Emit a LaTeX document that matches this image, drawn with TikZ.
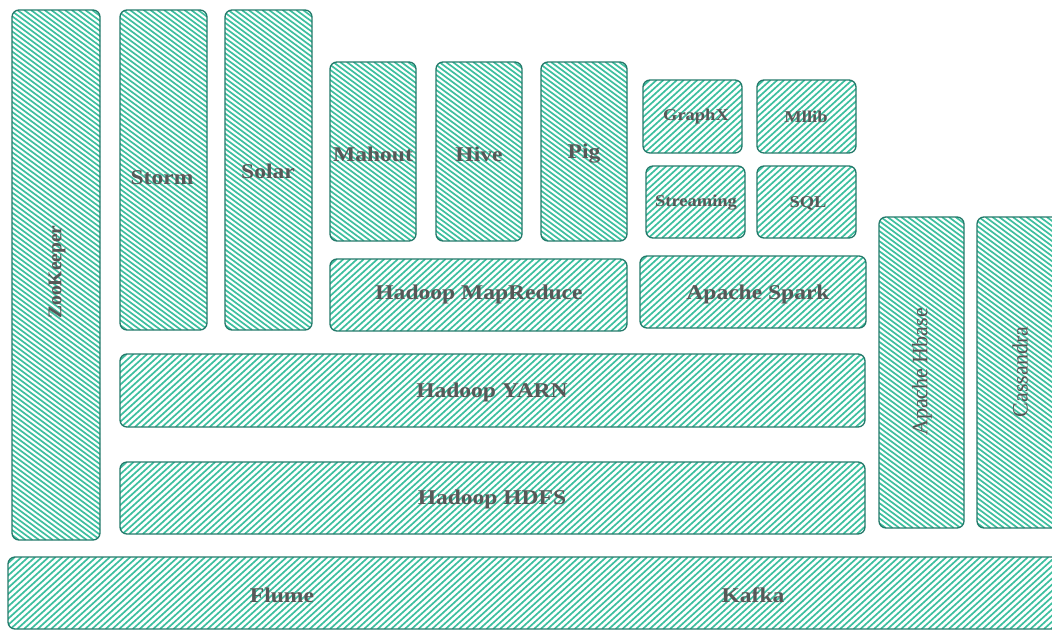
\documentclass[tikz,border=0pt]{standalone}
\usepackage{fontspec}
\setmainfont{Liberation Serif}
\newfontfamily\lblfont{Liberation Serif}[FakeStretch=1.12]
\newfontfamily\rotfont{Liberation Serif}
\definecolor{hatchc}{HTML}{3EBF9F}
\definecolor{edgec}{HTML}{24796A}
\definecolor{txtc}{HTML}{585858}
\def\hsx{6.8}
\tikzset{
  box/.style={draw=edgec, line width=1.3pt, rounded corners=7pt, inner sep=0pt, outer sep=0pt},
  hatchline/.style={draw=hatchc, line width=1.7pt},
  hatchNE/.style={path picture={%
    \pgfmathsetmacro\ddx{1.1*\bh}%
    \pgfmathsetmacro\nl{int((\bw+\ddx)/\hsx)+1}%
    \foreach \i in {0,...,\nl}{\draw[hatchline] ([xshift={\i*\hsx-\ddx}]path picture bounding box.south west) -- ++(\ddx,-\bh);}}},
  hatchNW/.style={path picture={%
    \pgfmathsetmacro\ddx{1.35*\bh}%
    \pgfmathsetmacro\nl{int((\bw+\ddx)/\hsx)+1}%
    \foreach \i in {0,...,\nl}{\draw[hatchline] ([xshift={\i*\hsx-\ddx}]path picture bounding box.north west) -- ++(\ddx,\bh);}}},
  lbl/.style={text=txtc, font=\lblfont\bfseries\fontsize{21}{23}\selectfont, inner sep=0pt},
  slbl/.style={text=txtc, font=\lblfont\bfseries\fontsize{16.5}{18}\selectfont, inner sep=0pt},
  rlbl/.style={text=txtc, font=\rotfont\fontsize{22}{24}\selectfont, inner sep=0pt, rotate=90},
  rblbl/.style={text=txtc, font=\rotfont\bfseries\fontsize{19.5}{21}\selectfont, inner sep=0pt, rotate=90},
}
% #1 name, #2 x1, #3 y1, #4 x2, #5 y2, #6 NE/NW
\newcommand\hatchedbox[6]{%
  \pgfmathsetmacro\bw{#4-#2}%
  \pgfmathsetmacro\bh{#5-#3}%
  \node[box, minimum width=\bw pt, minimum height=\bh pt, hatch#6] (#1) at ({(#2+#4)/2},{(#3+#5)/2}) {};
}
\begin{document}
\begin{tikzpicture}[x=1pt,y=-1pt]
\useasboundingbox (0,0) rectangle (1052,630);
\clip (0,0) rectangle (1052,630);
\hatchedbox{zoo}{12}{10}{100}{540}{NW}
\hatchedbox{storm}{120}{10}{207}{330}{NW}
\hatchedbox{solar}{225}{10}{312}{330}{NW}
\hatchedbox{mahout}{330}{62}{416}{241}{NW}
\hatchedbox{hive}{436}{62}{522}{241}{NW}
\hatchedbox{pig}{541}{62}{627}{241}{NW}
\hatchedbox{graphx}{643}{80}{742}{153}{NE}
\hatchedbox{mllib}{757}{80}{856}{153}{NE}
\hatchedbox{streaming}{646}{166}{745}{238}{NE}
\hatchedbox{sql}{757}{166}{856}{238}{NE}
\hatchedbox{mapred}{330}{259}{627}{331}{NE}
\hatchedbox{spark}{640}{256}{866}{328}{NE}
\hatchedbox{yarn}{120}{354}{865}{427}{NE}
\hatchedbox{hdfs}{120}{462}{865}{534}{NE}
\hatchedbox{hbase}{879}{217}{964}{528}{NW}
\hatchedbox{cass}{977}{217}{1062}{528}{NW}
\hatchedbox{flume}{8}{557}{1062}{629}{NE}

\node[rblbl] (tzoo) at (57,272) {ZooKeeper};
\node[lbl] (tstorm) at (162,178) {Storm};
\node[lbl] (tsolar) at (268,171) {Solar};
\node[lbl] (tmahout) at (373,154) {Mahout};
\node[lbl] (thive) at (479,154) {Hive};
\node[lbl] (tpig) at (584,154) {Pig};
\node[slbl] (tgraphx) at (696,117) {GraphX};
\node[slbl] (tmllib) at (806,117) {Mllib};
\node[slbl] (tstreaming) at (696,203) {Streaming};
\node[slbl] (tsql) at (808,203) {SQL};
\node[lbl] (tmapred) at (479,294) {Hadoop MapReduce};
\node[lbl] (tspark) at (758,294) {Apache Spark};
\node[lbl] (tyarn) at (492,392) {Hadoop YARN};
\node[lbl] (thdfs) at (492,499) {Hadoop HDFS};
\node[rlbl] (thbase) at (922,372) {Apache Hbase};
\node[rlbl] (tcass) at (1020,372) {Cassandra};
\node[lbl] (tflume) at (282,595) {Flume};
\node[lbl] (tkafka) at (753,595) {Kafka};
\end{tikzpicture}
\end{document}
